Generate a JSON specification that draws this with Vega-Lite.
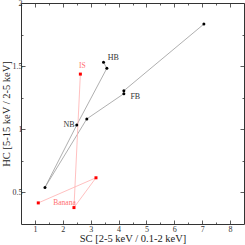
{
  "$schema": "https://vega.github.io/schema/vega-lite/v6.json",
  "width": 223,
  "height": 221,
  "autosize": {"type": "none"},
  "padding": {"left": 21, "top": 3, "right": 1, "bottom": 21},
  "background": "white",
  "config": {
    "view": {"stroke": null},
    "axis": {
      "grid": false,
      "domainColor": "#333333",
      "domainWidth": 1,
      "tickColor": "#333333",
      "tickWidth": 0.8,
      "labelFont": "Liberation Serif",
      "labelFontSize": 8,
      "labelColor": "#333333",
      "titleFont": "Liberation Serif",
      "titleFontSize": 10.5,
      "titleFontWeight": "normal",
      "titleColor": "#222222"
    }
  },
  "datasets": {
    "pts": [
      {"sc": 3.46, "hc": 1.530, "series": "S1-S6", "ord": 1},
      {"sc": 3.58, "hc": 1.483, "series": "S1-S6", "ord": 2},
      {"sc": 2.50, "hc": 1.034, "series": "S1-S6", "ord": 3},
      {"sc": 1.36, "hc": 0.540, "series": "S1-S6", "ord": 4},
      {"sc": 2.86, "hc": 1.082, "series": "S1-S6", "ord": 5},
      {"sc": 4.19, "hc": 1.282, "series": "S1-S6", "ord": 6},
      {"sc": 4.19, "hc": 1.305, "series": "S1-S6", "ord": 7},
      {"sc": 7.06, "hc": 1.833, "series": "S1-S6", "ord": 8},
      {"sc": 2.63, "hc": 1.437, "series": "S7-S10", "ord": 1},
      {"sc": 2.40, "hc": 0.380, "series": "S7-S10", "ord": 2},
      {"sc": 3.19, "hc": 0.616, "series": "S7-S10", "ord": 3},
      {"sc": 1.12, "hc": 0.417, "series": "S7-S10", "ord": 4}
    ],
    "labsBlack": [
      {"sc": 3.81, "hc": 1.562, "text": "HB"},
      {"sc": 4.60, "hc": 1.252, "text": "FB"},
      {"sc": 2.22, "hc": 1.034, "text": "NB"}
    ],
    "labsRed": [
      {"sc": 2.70, "hc": 1.499, "text": "IS"},
      {"sc": 2.06, "hc": 0.420, "text": "Banana"}
    ]
  },
  "layer": [
    {
      "data": {"name": "pts"},
      "mark": {"type": "line", "strokeWidth": 0.8},
      "encoding": {
        "x": {"field": "sc", "type": "quantitative", "scale": {"domain": [0.5, 8.5], "nice": false, "zero": false},
              "axis": {"orient": "bottom", "values": [1,2,3,4,5,6,7,8], "tickSize": -4, "labelPadding": 5, "title": "SC [2-5 keV / 0.1-2 keV]", "titlePadding": 0}},
        "y": {"field": "hc", "type": "quantitative", "scale": {"domain": [0.25, 2], "nice": false, "zero": false},
              "axis": {"orient": "left", "values": [0.5, 1, 1.5, 2], "format": "~g", "tickSize": -4, "labelPadding": 3, "title": "HC [5-15 keV / 2-5 keV]", "titlePadding": 1}},
        "detail": {"field": "series"},
        "order": {"field": "ord"},
        "stroke": {"field": "series", "type": "nominal", "scale": {"domain": ["S1-S6", "S7-S10"], "range": ["#9a9a9a", "#ffb0b0"]}, "legend": null}
      }
    },
    {
      "data": {"name": "pts"},
      "mark": {"type": "point", "filled": true, "size": 9, "opacity": 1},
      "encoding": {
        "x": {"field": "sc", "type": "quantitative",
              "axis": {"orient": "top", "values": [1,2,3,4,5,6,7,8], "tickSize": -4, "labels": false, "title": null}},
        "y": {"field": "hc", "type": "quantitative",
              "axis": {"orient": "right", "values": [0.5, 1, 1.5, 2], "tickSize": -4, "labels": false, "title": null}},
        "color": {"field": "series", "type": "nominal", "scale": {"domain": ["S1-S6", "S7-S10"], "range": ["#000000", "#ff0000"]},
                  "legend": {"title": null, "orient": "top-right", "offset": 0, "padding": 3, "strokeColor": "#555555", "fillColor": "white",
                             "labelFont": "Liberation Serif", "labelFontSize": 7, "labelColor": "#222222", "rowPadding": 1,
                             "symbolType": "M-1.8,-0.28H-1.3V-0.05H1.3V-0.28H1.8V0.28H1.3V0.05H-1.3V0.28H-1.8Z",
                             "symbolSize": 36, "symbolStrokeWidth": 0, "symbolOffset": 4, "labelOffset": 6}},
        "shape": {"condition": {"test": "datum.series === 'S7-S10'", "value": "square"}, "value": "circle"}
      }
    },
    {
      "data": {"name": "labsBlack"},
      "mark": {"type": "text", "font": "Liberation Serif", "fontSize": 8, "fill": "#333333"},
      "encoding": {
        "x": {"field": "sc", "type": "quantitative",
              "axis": {"orient": "bottom", "values": [1.5,2.5,3.5,4.5,5.5,6.5,7.5], "tickSize": -2, "labels": false, "domain": false, "title": null}},
        "y": {"field": "hc", "type": "quantitative",
              "axis": {"orient": "left", "values": [0.75, 1.25, 1.75], "tickSize": -2, "labels": false, "domain": false, "title": null}},
        "text": {"field": "text"}
      }
    },
    {
      "data": {"name": "labsRed"},
      "mark": {"type": "text", "font": "Liberation Serif", "fontSize": 7.5, "fill": "#ff7070"},
      "encoding": {
        "x": {"field": "sc", "type": "quantitative",
              "axis": {"orient": "top", "values": [1.5,2.5,3.5,4.5,5.5,6.5,7.5], "tickSize": -2, "labels": false, "domain": false, "title": null}},
        "y": {"field": "hc", "type": "quantitative",
              "axis": {"orient": "right", "values": [0.75, 1.25, 1.75], "tickSize": -2, "labels": false, "domain": false, "title": null}},
        "text": {"field": "text"}
      }
    }
  ],
  "resolve": {"axis": {"x": "independent", "y": "independent"}}
}
